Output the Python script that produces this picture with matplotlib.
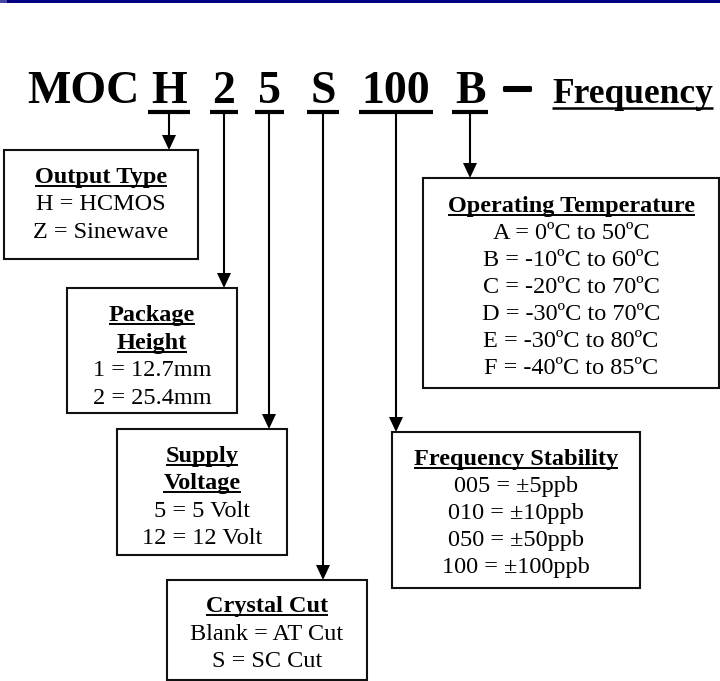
import matplotlib
matplotlib.use("Agg")
import matplotlib.pyplot as plt
from matplotlib.patches import Rectangle, Polygon
import matplotlib.patheffects as pe

# ---- content ----
prefix = "MOC"
codes = ["H", "2", "5", "S", "100", "B"]
suffix = "Frequency"

box_titles = [
    ["Output Type"],
    ["Package", "Height"],
    ["Supply", "Voltage"],
    ["Crystal Cut"],
    ["Frequency Stability"],
    ["Operating Temperature"],
]
box_lines = [
    ["H = HCMOS", "Z = Sinewave"],
    ["1 = 12.7mm", "2 = 25.4mm"],
    ["5 = 5 Volt", "12 = 12 Volt"],
    ["Blank = AT Cut", "S = SC Cut"],
    ["005 = \u00b15ppb", "010 = \u00b110ppb", "050 = \u00b150ppb", "100 = \u00b1100ppb"],
    ["A = 0\u00baC to 50\u00baC", "B = -10\u00baC to 60\u00baC", "C = -20\u00baC to 70\u00baC",
     "D = -30\u00baC to 70\u00baC", "E = -30\u00baC to 80\u00baC", "F = -40\u00baC to 85\u00baC"],
]

# ---- layout (pixels) ----
code_x = [169, 224, 269, 323, 396, 470]
# boxes: x0, y0, x1, y1
boxes = [
    (4, 150, 198, 259),
    (67, 288, 237, 413),
    (117, 429, 287, 555),
    (167, 580, 367, 680),
    (392, 432, 640, 588),
    (423, 178, 719, 388),
]
first_line_center = [176, 314, 455, 605, 458, 205]
line_step = [27.5, 27.7, 27.3, 27.5, 27, 27]

W, H = 720, 681
FONT = "Liberation Serif"
BODY = 17.5
fig = plt.figure(figsize=(W / 100, H / 100), dpi=100)
ax = fig.add_axes([0, 0, 1, 1])
ax.set_xlim(0, W)
ax.set_ylim(H, 0)
ax.axis("off")
fig.canvas.draw()
renderer = fig.canvas.get_renderer()


def xext(t):
    bb = t.get_window_extent(renderer)
    return bb.x0, bb.x1


# top navy rule
ax.add_patch(Rectangle((0, 0), W, 2.5, color="#000080", lw=0))
ax.add_patch(Rectangle((0, 0), 7, 2.5, color="#4848a0", lw=0))

# title
base = 103
ul_y = 111.5
ax.text(83, base, prefix, fontfamily=FONT, fontweight="bold", fontsize=33,
        ha="center", va="baseline")
for c, x in zip(codes, code_x):
    t = ax.text(x, base, c, fontfamily=FONT, fontweight="bold", fontsize=33,
                ha="center", va="baseline")
    x0, x1 = xext(t)
    ax.plot([x0 - 3, x1 + 3], [ul_y, ul_y], color="black", lw=3, solid_capstyle="butt")
ax.text(517, base - 3, "\u2013", fontfamily=FONT, fontweight="bold", fontsize=36,
        ha="center", va="baseline",
        path_effects=[pe.withStroke(linewidth=2.2, foreground="black")])
t = ax.text(552, base, suffix, fontfamily=FONT, fontweight="bold", fontsize=25.5,
            ha="left", va="baseline")
x0, x1 = xext(t)
ax.plot([x0, x1], [107.5, 107.5], color="black", lw=1.8, solid_capstyle="butt")

# arrows
for x, b in zip(code_x, boxes):
    top = b[1]
    ax.plot([x, x], [ul_y + 1, top - 14], color="black", lw=1.5, solid_capstyle="butt")
    ax.add_patch(Polygon([[x - 7, top - 15], [x + 7, top - 15], [x, top]],
                         closed=True, color="black", lw=0))

# boxes
for b, titles, lines, y0, step in zip(boxes, box_titles, box_lines,
                                      first_line_center, line_step):
    bx0, by0, bx1, by1 = b
    ax.add_patch(Rectangle((bx0, by0), bx1 - bx0, by1 - by0, fill=False,
                           edgecolor="#111111", lw=1.5))
    cx = (bx0 + bx1) / 2
    y = y0
    for tt in titles:
        t = ax.text(cx, y + 7, tt, fontfamily=FONT, fontweight="bold", fontsize=BODY,
                    ha="center", va="baseline")
        x0, x1 = xext(t)
        ax.plot([x0, x1], [y + 10, y + 10], color="black", lw=1.4, solid_capstyle="butt")
        y += step
    for ln in lines:
        ax.text(cx, y + 7, ln, fontfamily=FONT, fontsize=BODY,
                ha="center", va="baseline")
        y += step

fig.savefig("out.png", dpi=100)
